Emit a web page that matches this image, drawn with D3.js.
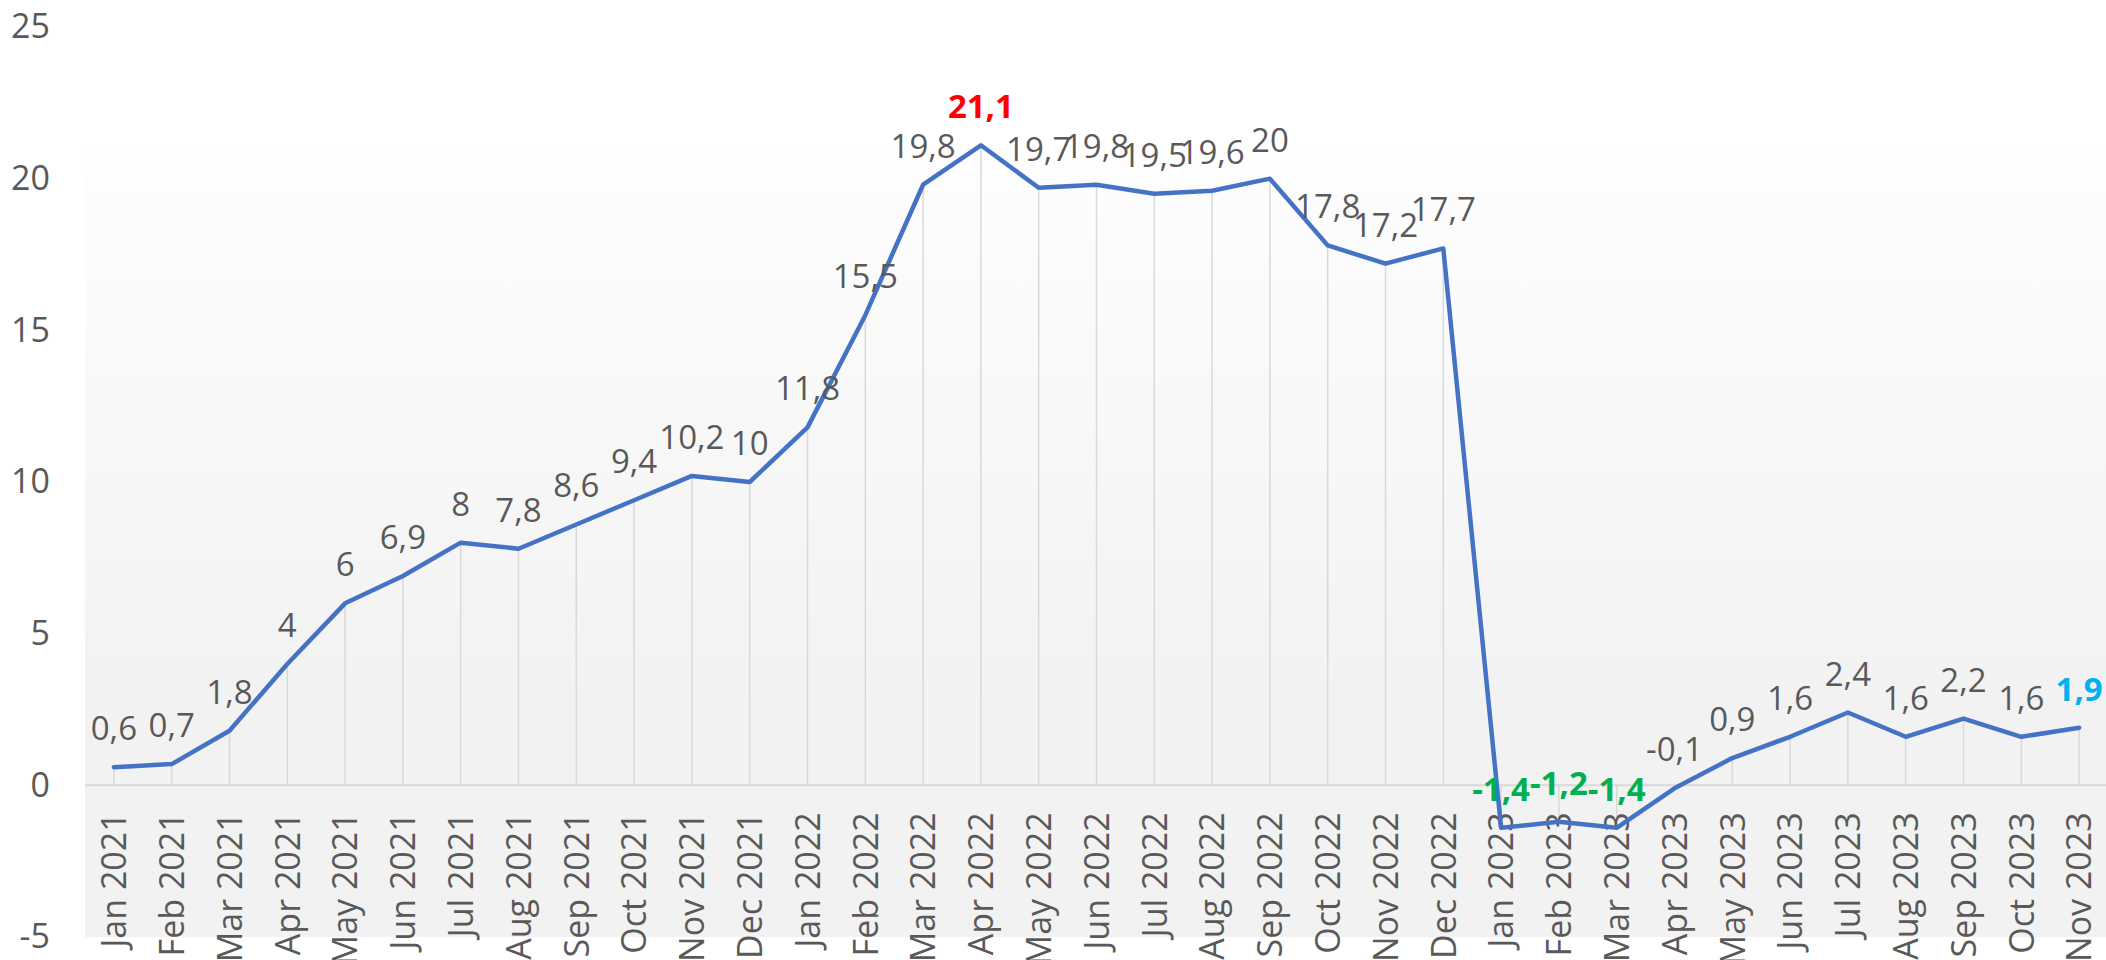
<!DOCTYPE html>
<html>
<head>
<meta charset="utf-8">
<script src="https://cdn.jsdelivr.net/npm/d3@7"></script>
<style>
  html, body { margin: 0; padding: 0; background: #ffffff; }
  svg { display: block; }
  text { font-family: "Open Sans", "Noto Sans", sans-serif; }
</style>
</head>
<body>
<svg id="chart" width="2106" height="960"></svg>
<script>
const categories = [
  "Jan 2021","Feb 2021","Mar 2021","Apr 2021","May 2021","Jun 2021","Jul 2021","Aug 2021","Sep 2021","Oct 2021","Nov 2021","Dec 2021",
  "Jan 2022","Feb 2022","Mar 2022","Apr 2022","May 2022","Jun 2022","Jul 2022","Aug 2022","Sep 2022","Oct 2022","Nov 2022","Dec 2022",
  "Jan 2023","Feb 2023","Mar 2023","Apr 2023","May 2023","Jun 2023","Jul 2023","Aug 2023","Sep 2023","Oct 2023","Nov 2023"
];
const values = [
  0.6, 0.7, 1.8, 4, 6, 6.9, 8, 7.8, 8.6, 9.4, 10.2, 10,
  11.8, 15.5, 19.8, 21.1, 19.7, 19.8, 19.5, 19.6, 20, 17.8, 17.2, 17.7,
  -1.4, -1.2, -1.4, -0.1, 0.9, 1.6, 2.4, 1.6, 2.2, 1.6, 1.9
];
const yTicks = [-5, 0, 5, 10, 15, 20, 25];
// highlighted labels (bold, coloured)
const highlightCategories = ["Apr 2022", "Jan 2023", "Feb 2023", "Mar 2023", "Nov 2023"];
const highlightColors = ["#FF0000", "#00B050", "#00B050", "#00B050", "#00B0F0"];

const data = categories.map((c, i) => ({ cat: c, v: values[i] }));
const fmt = v => String(v).replace(".", ",");

const svg = d3.select("#chart");
const plot = { left: 85, right: 2108, top: 145, bottom: 937 };

const x = d3.scaleBand().domain(categories).range([plot.left, plot.right]).padding(0);
const cx = c => x(c) + x.bandwidth() / 2;
const y = d3.scaleLinear().domain([-5, 25]).range([937, 27]);

// plot area gradient
const defs = svg.append("defs");
const grad = defs.append("linearGradient").attr("id", "bg")
  .attr("x1", 0).attr("y1", 0).attr("x2", 0).attr("y2", 1);
grad.append("stop").attr("offset", "0%").attr("stop-color", "#fefefe");
grad.append("stop").attr("offset", "70%").attr("stop-color", "#f2f2f2");
grad.append("stop").attr("offset", "100%").attr("stop-color", "#f2f2f2");

svg.append("rect")
  .attr("x", plot.left).attr("y", plot.top)
  .attr("width", 2106 - plot.left).attr("height", plot.bottom - plot.top)
  .attr("fill", "url(#bg)");

// y axis labels
const yAxis = d3.axisLeft(y).tickValues(yTicks).tickSize(0).tickPadding(0).tickFormat(d => String(d));
const yg = svg.append("g").attr("transform", "translate(50,0)").call(yAxis);
yg.select(".domain").remove();
yg.selectAll("text")
  .attr("font-family", "'Open Sans', sans-serif")
  .attr("font-size", 34).attr("fill", "#595959");

// drop lines
svg.append("g").selectAll("line").data(data).join("line")
  .attr("x1", d => cx(d.cat)).attr("x2", d => cx(d.cat))
  .attr("y1", y(0)).attr("y2", d => y(d.v))
  .attr("stroke", "#d9d9d9").attr("stroke-width", 1.5);

// zero line
svg.append("line")
  .attr("x1", plot.left).attr("x2", 2106)
  .attr("y1", y(0)).attr("y2", y(0))
  .attr("stroke", "#d9d9d9").attr("stroke-width", 2);

// category labels
const xAxis = d3.axisBottom(x).tickSize(0).tickPadding(0);
const xg = svg.append("g").attr("transform", `translate(0,${y(0) + 27})`).call(xAxis);
xg.select(".domain").remove();
xg.selectAll("text")
  .attr("font-family", "'Open Sans', sans-serif")
  .attr("font-size", 34).attr("fill", "#595959")
  .attr("text-anchor", "end")
  .attr("transform", "rotate(-90)")
  .attr("x", 0).attr("y", 0).attr("dy", "0.36em");

// line
const line = d3.line().x(d => cx(d.cat)).y(d => y(d.v));
svg.append("path").datum(data)
  .attr("d", line)
  .attr("fill", "none")
  .attr("stroke", "#4472C4")
  .attr("stroke-width", 4.5)
  .attr("stroke-linejoin", "round")
  .attr("stroke-linecap", "round");

// data labels
svg.append("g").selectAll("text").data(data).join("text")
  .attr("x", d => cx(d.cat))
  .attr("y", d => y(d.v) - 27)
  .attr("text-anchor", "middle")
  .attr("font-size", 33)
  .attr("font-weight", d => highlightCategories.includes(d.cat) ? 700 : 400)
  .attr("fill", d => {
    const k = highlightCategories.indexOf(d.cat);
    return k >= 0 ? highlightColors[k] : "#595959";
  })
  .text(d => fmt(d.v));
</script>
</body>
</html>
